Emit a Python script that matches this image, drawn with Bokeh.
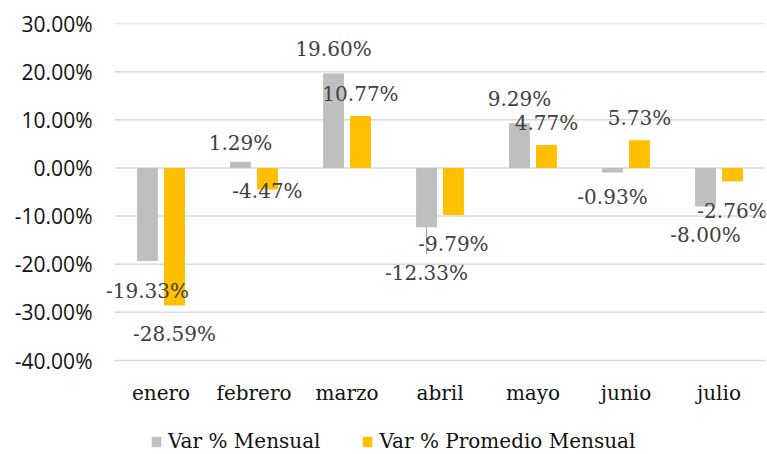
from bokeh.plotting import figure
from bokeh.models import (Range1d, FixedTicker, PrintfTickFormatter,
                          ColumnDataSource, Legend, LegendItem, LabelSet)
from bokeh.core.properties import value
from bokeh.embed import file_html
from bokeh.resources import INLINE

# ---------------- data ----------------
months = ["enero", "febrero", "marzo", "abril", "mayo", "junio", "julio"]
var_mensual = [-19.33, 1.29, 19.60, -12.33, 9.29, -0.93, -8.00]
var_promedio = [-28.59, -4.47, 10.77, -9.79, 4.77, 5.73, -2.76]
y_ticks = [-40, -30, -20, -10, 0, 10, 20, 30]
series_names = ["Var % Mensual", "Var % Promedio Mensual"]

# ---------------- style / layout ----------------
GRAY = "#BFBFBF"
GOLD = "#FFC000"
GRID = "#D9D9D9"
LEADER = "#A6A6A6"
LABEL_COLOR = "#404040"
TEXT_COLOR = "#111111"
SERIF = "DejaVu Serif"
SANS = "Open Sans"
W, H = 767, 454
TOP, LEFT, RIGHT = 23, 96, 2
GRID_LEFT_GAP = 18       # px between frame edge and start of gridlines
AXIS_PX = 337            # pixels between the lowest and highest tick
OFF, BW = 0.145, 0.225   # bar dodge and width (in category units)
# hand-placed data-label offsets (screen px, + = up), as in the reference
dy_gray = [-30, 19, 25, -46, 24, -25, -29]
dy_gold = [-28, -2, 22, -29, 22, 22, -30]
LEADER_MIN = 40          # labels moved further than this get a leader line
LABEL_HALF_H = 19

n = len(months)
y_lo, y_hi = y_ticks[0], y_ticks[-1]
px_per_unit = AXIS_PX / (y_hi - y_lo)
frame_h = H - TOP
y_start = y_hi - frame_h / px_per_unit   # extra room below for labels + legend
frame_w = W - LEFT - RIGHT
cat_px = (frame_w - GRID_LEFT_GAP) / n
x_start = -GRID_LEFT_GAP / cat_px

centers = [i + 0.5 for i in range(n)]
src = ColumnDataSource(dict(
    month=months,
    xc=centers,
    xm=[c - OFF for c in centers],
    xp=[c + OFF for c in centers],
    mensual=var_mensual,
    promedio=var_promedio,
    lab_m=[f"{v:.2f}%" for v in var_mensual],
    lab_p=[f"{v:.2f}%" for v in var_promedio],
    dy_m=dy_gray,
    dy_p=dy_gold,
    base=[y_lo] * n,
))

# leader lines for far-moved labels
lead_x, lead_y0, lead_y1 = [], [], []
for c, v, d in zip(centers, var_mensual, dy_gray):
    if abs(d) > LEADER_MIN:
        s = 1 if d > 0 else -1
        lead_x.append(c - OFF)
        lead_y0.append(v)
        lead_y1.append(v + (d - s * LABEL_HALF_H) / px_per_unit)
lead_src = ColumnDataSource(dict(x=lead_x, y0=lead_y0, y1=lead_y1))

grid_src = ColumnDataSource(dict(y=y_ticks, x0=[0] * len(y_ticks),
                                 x1=[n] * len(y_ticks)))

p = figure(x_range=Range1d(x_start, n), y_range=Range1d(y_start, y_hi),
           width=W, height=H, output_backend="svg", toolbar_location=None,
           x_axis_location=None,
           min_border_left=LEFT, min_border_right=RIGHT, min_border_top=TOP,
           min_border_bottom=0)
p.outline_line_color = None
p.background_fill_color = "white"
p.border_fill_color = "white"
p.xgrid.grid_line_color = None
p.ygrid.grid_line_color = None

# horizontal gridlines
p.segment(x0="x0", x1="x1", y0="y", y1="y", source=grid_src,
          line_color=GRID, line_width=1.5)

r1 = p.vbar(x="xm", top="mensual", bottom=0, width=BW, source=src,
            fill_color=GRAY, line_color=None)
r2 = p.vbar(x="xp", top="promedio", bottom=0, width=BW, source=src,
            fill_color=GOLD, line_color=None)

p.segment(x0="x", y0="y0", x1="x", y1="y1", source=lead_src,
          line_color=LEADER, line_width=1.2)

lab1 = LabelSet(x="xm", y="mensual", text="lab_m", y_offset="dy_m", source=src,
                text_align="center", text_baseline="middle",
                text_font=value(SERIF), text_font_size=value("20px"),
                text_color=LABEL_COLOR)
lab2 = LabelSet(x="xp", y="promedio", text="lab_p", y_offset="dy_p", source=src,
                text_align="center", text_baseline="middle",
                text_font=value(SERIF), text_font_size=value("20px"),
                text_color=LABEL_COLOR)
p.add_layout(lab1)
p.add_layout(lab2)

# category labels (horizontal axis) under the lowest gridline
p.text(x="xc", y="base", text="month", source=src, y_offset=32,
       text_align="center", text_baseline="middle", text_font=value(SERIF),
       text_font_size="20px", text_color=TEXT_COLOR)

# vertical axis
p.yaxis.ticker = FixedTicker(ticks=y_ticks)
p.yaxis.formatter = PrintfTickFormatter(format="%.2f%%")
p.yaxis.axis_line_color = None
p.yaxis.major_tick_line_color = None
p.yaxis.minor_tick_line_color = None
p.yaxis.major_tick_out = 0
p.yaxis.major_tick_in = 0
p.yaxis.major_label_standoff = 4
p.yaxis.major_label_text_font = SANS
p.yaxis.major_label_text_font_size = "21px"
p.yaxis.major_label_text_color = TEXT_COLOR

legend = Legend(items=[LegendItem(label=series_names[0], renderers=[r1]),
                       LegendItem(label=series_names[1], renderers=[r2])],
                orientation="horizontal", location=(36 + GRID_LEFT_GAP, 1),
                glyph_width=12, glyph_height=13, label_standoff=6, spacing=41,
                padding=0, margin=0, border_line_color=None,
                background_fill_alpha=0,
                label_text_font=SERIF, label_text_font_size="20px",
                label_text_color=TEXT_COLOR)
p.add_layout(legend, "center")

open("out.html", "w").write(file_html(p, INLINE))
